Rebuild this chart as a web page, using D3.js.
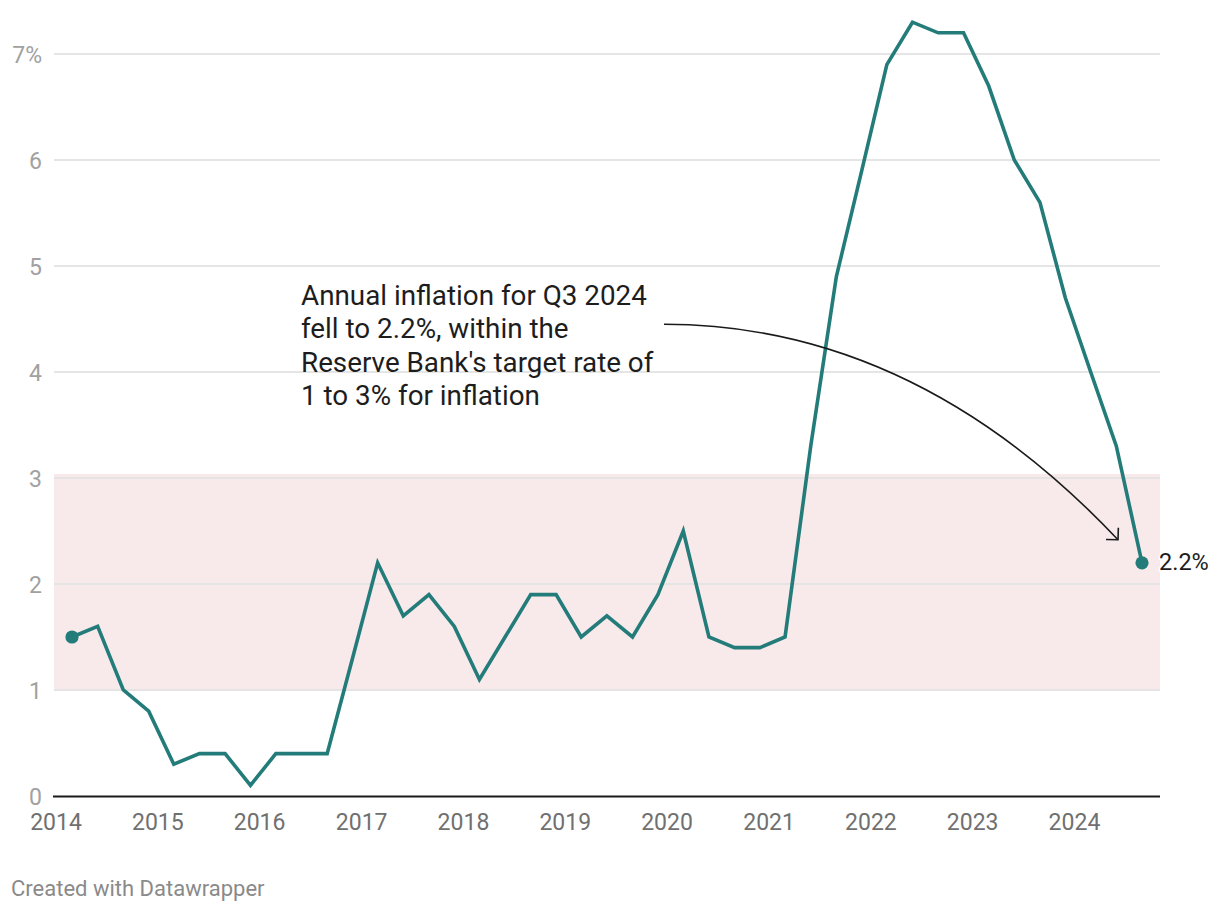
<!DOCTYPE html>
<html>
<head>
<meta charset="utf-8">
<script src="https://cdn.jsdelivr.net/npm/d3@7"></script>
<style>
  html, body { margin: 0; padding: 0; background: #fff; }
  svg { display: block; font-family: Roboto, "Noto Sans", sans-serif; }
</style>
</head>
<body>
<svg id="chart" width="1220" height="912"></svg>
<script>
// ---- data ----
const quarters = [
  "2014 Q1","2014 Q2","2014 Q3","2014 Q4",
  "2015 Q1","2015 Q2","2015 Q3","2015 Q4",
  "2016 Q1","2016 Q2","2016 Q3","2016 Q4",
  "2017 Q1","2017 Q2","2017 Q3","2017 Q4",
  "2018 Q1","2018 Q2","2018 Q3","2018 Q4",
  "2019 Q1","2019 Q2","2019 Q3","2019 Q4",
  "2020 Q1","2020 Q2","2020 Q3","2020 Q4",
  "2021 Q1","2021 Q2","2021 Q3","2021 Q4",
  "2022 Q1","2022 Q2","2022 Q3","2022 Q4",
  "2023 Q1","2023 Q2","2023 Q3","2023 Q4",
  "2024 Q1","2024 Q2","2024 Q3"
];
const inflation = [
  1.5, 1.6, 1.0, 0.8,
  0.3, 0.4, 0.4, 0.1,
  0.4, 0.4, 0.4, 1.3,
  2.2, 1.7, 1.9, 1.6,
  1.1, 1.5, 1.9, 1.9,
  1.5, 1.7, 1.5, 1.9,
  2.5, 1.5, 1.4, 1.4,
  1.5, 3.3, 4.9, 5.9,
  6.9, 7.3, 7.2, 7.2,
  6.7, 6.0, 5.6, 4.7,
  4.0, 3.3, 2.2
];
const yTicks = [0, 1, 2, 3, 4, 5, 6, 7];
const xTickYears = [2014, 2015, 2016, 2017, 2018, 2019, 2020, 2021, 2022, 2023, 2024];
const targetBand = [1, 3];
const annotationLines = [
  "Annual inflation for Q3 2024",
  "fell to 2.2%, within the",
  "Reserve Bank's target rate of",
  "1 to 3% for inflation"
];
const footer = "Created with Datawrapper";

// ---- parse ----
const parseQ = s => {
  const [y, q] = s.split(" Q");
  return new Date(+y, (+q) * 3 - 1, 1);
};
const data = quarters.map((q, i) => ({ date: parseQ(q), value: inflation[i] }));

// ---- layout ----
const svg = d3.select("#chart");
const plotL = 54, plotR = 1160, pad = 18;
const x = d3.scaleTime()
  .domain(d3.extent(data, d => d.date))
  .range([plotL + pad, plotR - pad]);
const y = d3.scaleLinear().domain([0, 7]).range([796, 54]);

// target band
svg.append("rect")
  .attr("x", plotL).attr("width", plotR - plotL)
  .attr("y", y(targetBand[1]) - 4)
  .attr("height", y(targetBand[0]) - y(targetBand[1]) + 5)
  .attr("fill", "#f8eaeb");

// grid
const grid = svg.append("g");
yTicks.filter(t => t !== 0).forEach(t => {
  grid.append("line")
    .attr("x1", plotL).attr("x2", plotR)
    .attr("y1", y(t)).attr("y2", y(t))
    .attr("stroke", "#e3e3e3").attr("stroke-width", 2)
    .attr("opacity", 0.9);
});

// y labels
const yAxis = d3.axisLeft(y).tickValues(yTicks)
  .tickFormat(d => d === 7 ? d + "%" : d).tickSize(0).tickPadding(0);
const gy = svg.append("g").attr("transform", "translate(42,0)").call(yAxis);
gy.select(".domain").remove();
gy.selectAll("text")
  .attr("font-size", 23).attr("fill", "#a1a1a1")
  .attr("font-family", "Roboto")
  .attr("dy", "0.35em");

// baseline
svg.append("line")
  .attr("x1", plotL - 1).attr("x2", plotR)
  .attr("y1", y(0) + 0.5).attr("y2", y(0) + 0.5)
  .attr("stroke", "#1a1a1a").attr("stroke-width", 2.2);

// x labels
const xAxis = d3.axisBottom(x)
  .tickValues(xTickYears.map(yr => new Date(yr, 0, 1)))
  .tickFormat(d3.timeFormat("%Y")).tickSize(0).tickPadding(0);
const gx = svg.append("g").attr("transform", "translate(0,830)").call(xAxis);
gx.select(".domain").remove();
gx.selectAll("text")
  .attr("font-size", 23).attr("fill", "#707070")
  .attr("font-family", "Roboto")
  .attr("dy", 0).attr("y", 0);

// line
const line = d3.line().x(d => x(d.date)).y(d => y(d.value));
svg.append("path").datum(data)
  .attr("d", line)
  .attr("fill", "none")
  .attr("stroke", "#237c79")
  .attr("stroke-width", 3.6)
  .attr("stroke-linejoin", "miter")
  .attr("stroke-linecap", "butt");

// end dots
const first = data[0], last = data[data.length - 1];
[first, last].forEach(d => {
  svg.append("circle")
    .attr("cx", x(d.date)).attr("cy", y(d.value))
    .attr("r", 6.6).attr("fill", "#237c79");
});

// value label
svg.append("text")
  .attr("x", x(last.date) + 17).attr("y", y(last.value) + 7.5)
  .attr("font-size", 23.5).attr("fill", "#1d1d1d")
  .attr("stroke", "#fff").attr("stroke-width", 3).attr("paint-order", "stroke")
  .text(last.value.toFixed(1) + "%");

// annotation text
const ann = svg.append("text")
  .attr("font-size", 27.8).attr("fill", "#1d1d1d");
annotationLines.forEach((t, i) => {
  ann.append("tspan").attr("x", 301).attr("y", 305 + i * 33.4).text(t);
});

// arrow (quadratic curve, horizontal start)
const sx = 664, sy = y(4.45);
const ex = x(last.date) - 24, ey = y(last.value) - 23;
const cx = 915, cy = sy;
svg.append("path")
  .attr("d", `M${sx},${sy} Q${cx},${cy} ${ex},${ey}`)
  .attr("fill", "none").attr("stroke", "#1a1a1a").attr("stroke-width", 1.6);
const ang = Math.atan2(ey - cy, ex - cx);
const back = ang + Math.PI;
const L = 12;
const a1 = back - Math.PI / 4, a2 = back + Math.PI / 4;
svg.append("path")
  .attr("d", `M${ex + L * Math.cos(a1)},${ey + L * Math.sin(a1)} L${ex},${ey} L${ex + L * Math.cos(a2)},${ey + L * Math.sin(a2)}`)
  .attr("fill", "none").attr("stroke", "#1a1a1a").attr("stroke-width", 1.6);

// footer
svg.append("text")
  .attr("x", 11).attr("y", 896)
  .attr("font-size", 22).attr("fill", "#8a8a8a")
  .text(footer);
</script>
</body>
</html>
